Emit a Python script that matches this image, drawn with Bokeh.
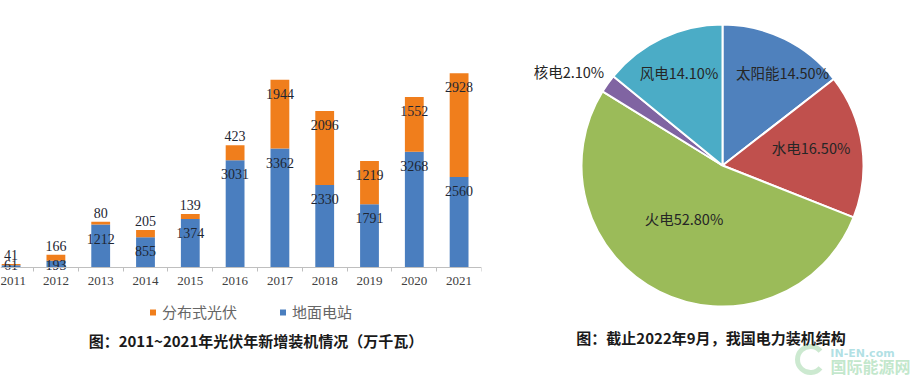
import math
import numpy as np
from bokeh.plotting import figure
from bokeh.layouts import row
from bokeh.models import (ColumnDataSource, Range1d, LinearAxis, FixedTicker,
                          Legend, LegendItem, Label)
from bokeh.core.properties import value
from bokeh.embed import file_html
from bokeh.resources import INLINE

# ---------------- data ----------------
years = [2011, 2012, 2013, 2014, 2015, 2016, 2017, 2018, 2019, 2020, 2021]
year_labels = ["2011", "2012", "2013", "2014", "2015", "2016", "2017", "2018", "2019", "2020", "2021"]
distributed = [41, 166, 80, 205, 139, 423, 1944, 2096, 1219, 1552, 2928]   # 分布式光伏
ground = [61, 193, 1212, 855, 1374, 3031, 3362, 2330, 1791, 3268, 2560]    # 地面电站
series_names = ["分布式光伏", "地面电站"]
bar_title = "图：2011~2021年光伏年新增装机情况（万千瓦）"

pie_names = ["太阳能", "水电", "火电", "核电", "风电"]
pie_values = [14.5, 16.5, 52.8, 2.1, 14.1]
pie_title = "图：截止2022年9月，我国电力装机结构"

# ---------------- styles ----------------
BLUE = "#4A7EBF"
ORANGE = "#F07E1C"
PIE_COLORS = ["#4F81BD", "#C0504D", "#9BBB59", "#8064A2", "#4BACC6"]
CJK = "Noto Sans CJK SC"
SERIF = "Liberation Serif"

# ---------------- bar chart ----------------
BAR_W, BAR_H = 508, 377
FRAME_W = 481
PX_PER_YEAR = 44.8
X_END = years[-1] + 0.5
X_START = X_END - FRAME_W / PX_PER_YEAR
BASE_PX = 267                  # baseline distance from frame top (px)
U = 5850 / 207                 # data units per pixel
Y_END = BASE_PX * U
Y_START = -(BAR_H - BASE_PX) * U

p1 = figure(width=BAR_W, height=BAR_H,
            x_range=Range1d(X_START, X_END), y_range=Range1d(Y_START, Y_END),
            x_axis_location=None, y_axis_location=None,
            toolbar_location=None, output_backend="svg",
            min_border_left=0, min_border_right=BAR_W - FRAME_W,
            min_border_top=0, min_border_bottom=0,
            outline_line_color=None)
p1.xgrid.visible = False
p1.ygrid.visible = False

xaxis = LinearAxis(
    fixed_location=0,
    ticker=FixedTicker(ticks=years,
                       minor_ticks=[y - 0.5 for y in years] + [years[-1] + 0.5]),
    major_label_overrides={y: l for y, l in zip(years, year_labels)},
    axis_line_color="#BFBFBF", axis_line_width=1,
    major_tick_line_color=None, major_tick_out=0, major_tick_in=0,
    minor_tick_line_color="#BFBFBF", minor_tick_out=4, minor_tick_in=0,
    major_label_text_font=SERIF, major_label_text_font_size="13px",
    major_label_text_color="#404040", major_label_standoff=5,
)
p1.add_layout(xaxis, "below")

src = ColumnDataSource(dict(year=years, ground=ground, dist=distributed))
p1.vbar_stack(["ground", "dist"], x="year", width=0.42, source=src,
              fill_color=[BLUE, ORANGE], line_color=None)

totals = [g + d for g, d in zip(ground, distributed)]
ground_label_y = [max(g - 14 * U, 2.5 * U) for g in ground]
dist_label_y = [t + 9 * U if d < 600 else t - 14 * U for t, d in zip(totals, distributed)]

p1.text(x=years, y=ground_label_y, text=[str(v) for v in ground],
        text_align="center", text_baseline="middle",
        text_font=value(SERIF), text_font_size="14px", text_color="#1E2633")
p1.text(x=years, y=dist_label_y, text=[str(v) for v in distributed],
        text_align="center", text_baseline="middle",
        text_font=value(SERIF), text_font_size="14px", text_color="#1E2633")

# legend with small square markers
r_d = p1.scatter(x=np.array([np.nan]), y=np.array([np.nan]), marker="square",
                 size=6, fill_color=ORANGE, line_color=None)
r_g = p1.scatter(x=np.array([np.nan]), y=np.array([np.nan]), marker="square",
                 size=6, fill_color=BLUE, line_color=None)
legend = Legend(items=[LegendItem(label=series_names[0], renderers=[r_d]),
                       LegendItem(label=series_names[1], renderers=[r_g])],
                location=(145, 55), orientation="horizontal",
                glyph_width=15, glyph_height=20, label_height=20,
                label_standoff=2, spacing=38, padding=0, margin=0,
                border_line_color=None, background_fill_alpha=0,
                label_text_font=CJK, label_text_font_size="15px",
                label_text_color="#666666")
p1.add_layout(legend)

p1.add_layout(Label(x=255.5, y=37, x_units="screen", y_units="screen",
                    text=bar_title, text_align="center", text_baseline="middle",
                    text_font=CJK, text_font_size="15px", text_font_style="bold",
                    text_color="#1A1A1A"))

# ---------------- pie chart ----------------
PIE_W, PIE_H = 408, 377
CX, CY, R = 214, 212, 141
LABEL_R = [0.787, 0.641, 0.467, 1.277, 0.728]     # label distance / R
LABEL_DA = [-6.6, 3.6, -9.2, 4.0, -0.3]            # label angle tweak (deg)

p2 = figure(width=PIE_W, height=PIE_H,
            x_range=Range1d(0, PIE_W), y_range=Range1d(0, PIE_H),
            x_axis_location=None, y_axis_location=None,
            toolbar_location=None, output_backend="svg",
            min_border=0, outline_line_color=None)
p2.xgrid.visible = False
p2.ygrid.visible = False

total = sum(pie_values)
starts, ends, mids = [], [], []
cum = 0.0
for v in pie_values:
    a0 = 90 - cum / total * 360
    cum += v
    a1 = 90 - cum / total * 360
    starts.append(math.radians(a0))
    ends.append(math.radians(a1))
    mids.append((a0 + a1) / 2)

psrc = ColumnDataSource(dict(start=starts, end=ends, color=PIE_COLORS))
p2.wedge(x=CX, y=CY, radius=R, start_angle="start", end_angle="end",
         direction="clock", fill_color="color", line_color="white",
         line_width=2, source=psrc)

lx, ly = [], []
for m, rf, da in zip(mids, LABEL_R, LABEL_DA):
    a = math.radians(m + da)
    lx.append(CX + rf * R * math.cos(a))
    ly.append(CY + rf * R * math.sin(a))
p2.text(x=lx, y=ly, text=[f"{n}{v:.2f}%" for n, v in zip(pie_names, pie_values)],
        text_align="center", text_baseline="middle",
        text_font=value(CJK), text_font_size="14.5px", text_color="#262626")

p2.add_layout(Label(x=202.5, y=40, x_units="data", y_units="data",
                    text=pie_title, text_align="center", text_baseline="middle",
                    text_font=CJK, text_font_size="15px", text_font_style="bold",
                    text_color="#1A1A1A"))

# watermark
p2.arc(x=[302], y=[18], radius=13, start_angle=math.radians(40),
       end_angle=math.radians(320), line_color="#BFE3C4", line_width=5, line_alpha=0.8)
p2.add_layout(Label(x=354, y=24, text="IN-EN.com", text_align="center",
                    text_baseline="middle", text_font="DejaVu Sans",
                    text_font_size="11px", text_font_style="bold",
                    text_color="#8FD3D8", text_alpha=0.7))
p2.add_layout(Label(x=362, y=12, text="国际能源网", text_align="center",
                    text_baseline="middle", text_font=CJK,
                    text_font_size="16px", text_font_style="bold",
                    text_color="#A8DDB5", text_alpha=0.7))

layout = row(p1, p2)
open("out.html", "w").write(file_html(layout, INLINE))
